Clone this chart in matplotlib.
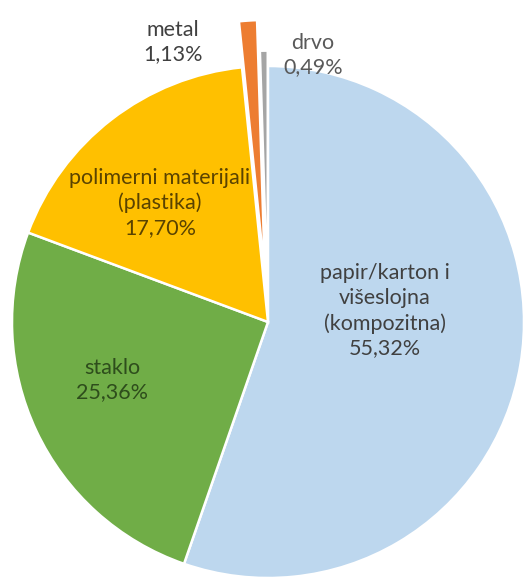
import matplotlib
matplotlib.use("Agg")
import matplotlib.pyplot as plt
import numpy as np

categories = ["papir/karton i\nvišeslojna\n(kompozitna)", "staklo",
              "polimerni materijali\n(plastika)", "metal", "drvo"]
values = [55.32, 25.36, 17.70, 1.13, 0.49]
value_labels = ["55,32%", "25,36%", "17,70%", "1,13%", "0,49%"]

colors = ["#BDD7EE", "#70AD47", "#FFC000", "#ED7D31", "#A5A5A5"]
text_colors = ["#404040", "#2E4D1C", "#5A4300", "#404040", "#595959"]
explode = [0, 0, 0, 0.18, 0.06]
# label anchor positions (layout, in pie-radius units)
label_pos = [(0.457, 0.043), (-0.609, -0.227), (-0.422, 0.465),
             (-0.37, 1.094), (0.176, 1.043)]

W, H = 526, 583
cx, cy, R = 268, 583 - 322, 256
fig = plt.figure(figsize=(W / 100, H / 100), dpi=100)
ax = fig.add_axes([0, 0, 1, 1])
ax.pie(values, colors=colors, explode=explode, startangle=90, counterclock=False,
       wedgeprops=dict(edgecolor="white", linewidth=1.8))
ax.set_aspect("auto")
ax.set_xlim(-cx / R, (W - cx) / R)
ax.set_ylim(-cy / R, (H - cy) / R)
ax.axis("off")

for cat, vl, (x, y), tc in zip(categories, value_labels, label_pos, text_colors):
    ax.text(x, y, f"{cat}\n{vl}", ha="center", va="center", fontsize=15.5,
            family=["Lato", "DejaVu Sans"], color=tc, linespacing=1.3)

fig.savefig("out.png", dpi=100, facecolor="white")
